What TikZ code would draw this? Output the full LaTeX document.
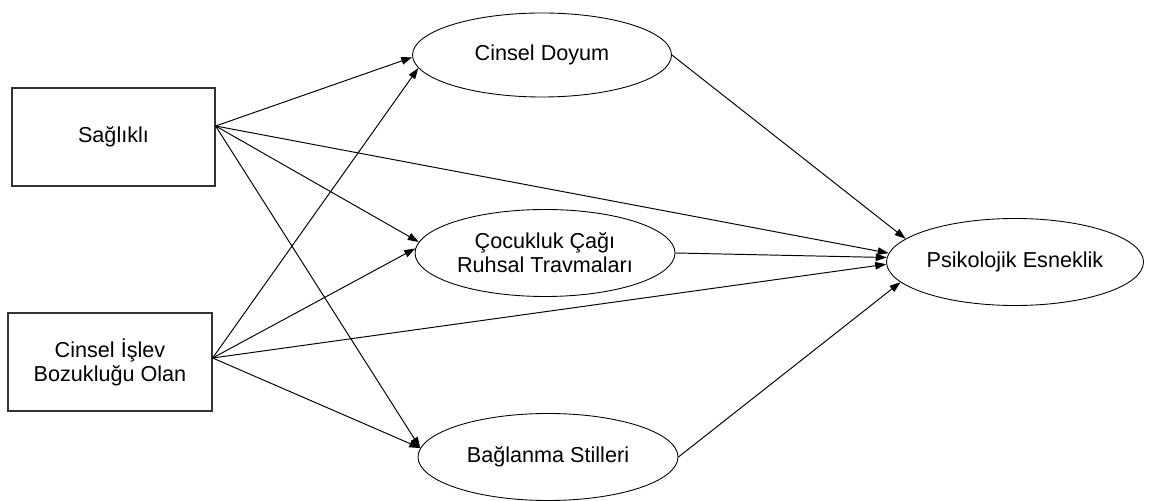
\documentclass[tikz,border=0pt]{standalone}
\usepackage{fontspec}
\setmainfont{Liberation Sans}
\usetikzlibrary{shapes.geometric, arrows.meta}
\begin{document}
\begin{tikzpicture}[>={Triangle[length=2.2mm, width=1.5mm]},
    group/.style={draw=black!80, line width=0.7pt, minimum width=4.06cm, minimum height=1.96cm, align=center, inner sep=0pt},
    latent/.style={draw, ellipse, line width=0.5pt, minimum width=5.2cm, minimum height=1.74cm, align=center, inner sep=0pt},
    link/.style={->, line width=0.55pt},
    font=\fontsize{12.3}{13.7}\selectfont]
    \useasboundingbox (0,0) rectangle (23.1,10.02);

    % Groups on the left
    \node[group] (sag) at (2.27, 7.28) {Sağlıklı};
    \node[group, minimum width=4.08cm] (cib) at (2.2, 2.78) {Cinsel İşlev\\Bozukluğu Olan};

    % Mediators in the middle
    \node[latent, minimum width=5.18cm, minimum height=1.68cm] (doyum) at (10.84, 8.92) {Cinsel Doyum};
    \node[latent] (travma) at (10.9, 4.96) {Çocukluk Çağı\\Ruhsal Travmaları};
    \node[latent] (stil) at (10.96, 0.88) {Bağlanma Stilleri};

    % Outcome on the right
    \node[latent, minimum width=5.14cm] (esnek) at (20.3, 4.78) {Psikolojik Esneklik};

    % Start points of the edges
    \coordinate (sagout) at ([yshift=0.22cm]sag.east);
    \coordinate (cibout) at ([yshift=0.08cm]cib.east);

    % Edges from the groups
    \draw[link] (sagout) -- (doyum.181);
    \draw[link] (sagout) -- (travma.175);
    \draw[link] (sagout) -- (stil.176);
    \draw[link] (sagout) -- (esnek.176);
    \draw[link] (cibout) -- (doyum.186);
    \draw[link] (cibout) -- (travma.178);
    \draw[link] (cibout) -- (stil.176);
    \draw[link] (cibout) -- (esnek.181);

    % Edges to the outcome
    \draw[link] (doyum.east) -- (esnek.168);
    \draw[link] (travma.east) -- (esnek.178);
    \draw[link] (stil.east) -- (esnek.190);
\end{tikzpicture}
\end{document}
